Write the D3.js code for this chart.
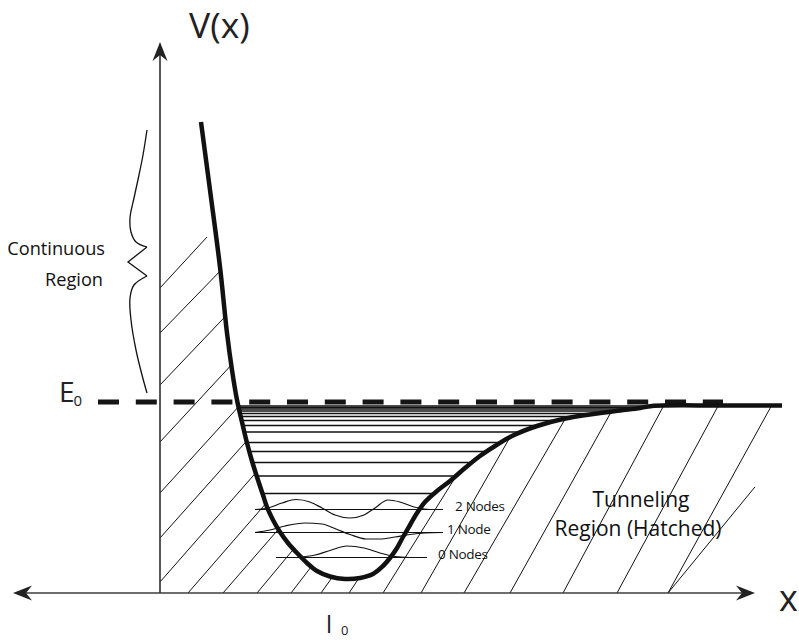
<!DOCTYPE html>
<html>
<head>
<meta charset="utf-8">
<script src="https://cdn.jsdelivr.net/npm/d3@7"></script>
<style>
  html, body { margin: 0; padding: 0; background: #fff; }
  svg { display: block; font-family: "Open Sans", "Noto Sans", sans-serif; }
</style>
</head>
<body>
<svg id="chart" width="799" height="642"></svg>
<script>
// ---------------- DATA (arbitrary units: x along the bond, V(x) energy) ----------------
// Potential energy curve V(x)
const curveX = [4.1, 5.0, 6.0, 6.7, 7.2, 7.7, 8.2, 8.7, 9.2, 9.7, 10.3, 10.7, 11.3, 12.0, 12.8, 13.7, 14.7, 15.7, 17.0, 18.5, 20.0, 21.3, 22.3, 23.0, 23.7, 24.3, 25.0, 25.7, 26.5, 27.7, 29.0, 30.5, 32.0, 33.5, 35.2, 37.7, 40.3, 43.7, 46.0, 48.0, 49.2, 56.0, 62.2];
const curveV = [47.1, 40.3, 32.6, 26.0, 22.3, 19.3, 17.1, 15.0, 13.2, 11.6, 9.8, 8.6, 7.3, 6.1, 5.0, 4.0, 3.0, 2.2, 1.65, 1.4, 1.5, 1.9, 2.7, 3.5, 4.5, 5.6, 6.8, 8.0, 9.1, 10.2, 11.2, 12.5, 13.7, 14.7, 15.7, 16.7, 17.4, 17.95, 18.25, 18.5, 18.7, 18.75, 18.75];

// Dissociation energy E0 and dashed line extent
const E0 = 19.1;
const e0Extent = [-6.2, 56.3];

// Quasi-continuum levels (drawn between the walls)
const levels = [18.7, 18.55, 18.4, 18.2, 17.95, 17.65, 17.25, 16.75, 16.1, 15.05, 14.15, 13.05, 11.7, 9.95];

// Lowest vibrational states with their wavefunctions
const stateNames = ["2 Nodes", "1 Node", "0 Nodes"];
const stateE = [8.35, 6.05, 3.55];
const stateLineStart = [9.5, 9.5, 11.6];
const stateLineEnd = [28.3, 28.3, 26.7];
const wave2X = [9.5, 10.8, 12.2, 13.6, 15.0, 16.2, 17.5, 19.0, 20.4, 21.5, 22.8, 24.0, 25.4, 27.0, 28.3];
const wave2V = [8.35, 8.5, 9.0, 9.35, 9.1, 8.5, 7.8, 7.5, 7.8, 8.5, 9.3, 9.1, 8.6, 8.35, 8.35];
const wave1X = [9.5, 11.0, 12.5, 14.5, 16.2, 17.6, 19.0, 20.6, 22.0, 23.5, 25.0, 26.5, 28.3];
const wave1V = [6.05, 6.3, 6.7, 7.0, 6.9, 6.4, 5.85, 5.4, 5.4, 5.6, 5.85, 6.0, 6.05];
const wave0X = [13.7, 15.5, 17.0, 18.7, 20.4, 22.0, 23.5, 25.0];
const wave0V = [3.55, 3.8, 4.25, 4.7, 4.5, 4.0, 3.65, 3.55];

// Hatch lines: feet on the V axis (x = 0) and on the x axis (V = 0), with slopes
const hatchFootV = [30.5, 26.0, 20.8, 15.1, 10.0, 5.5, 1.1];
const hatchFootVSlope = [1.085, 1.03, 1.05, 1.08, 1.1, 1.12, 1.14];
const hatchFootX = [2.8, 6.3, 9.7, 13.1, 16.1, 18.9, 22.3, 26.1, 30.4, 35.0, 40.3, 45.7, 50.8];
const hatchFootXSlope = [1.15, 1.15, 1.2, 1.3, 1.4, 1.5, 1.6, 1.75, 1.72, 1.79, 1.86, 1.85, 1.81];
const hatchShortFootX = [50.8];
const hatchShortSlope = [1.22];
const hatchShortTop = [10.6];
const hatchTop = 35.6;

// Brace for the continuous region
const braceTopX = [-1.3, -1.7, -2.1, -2.6, -3.0, -2.9, -2.4, -1.3];
const braceTopV = [46.3, 43.8, 41.8, 39.5, 37.5, 36.1, 35.1, 34.6];
const braceZigX = [-1.3, -3.2, -1.3];
const braceZigV = [34.6, 33.1, 31.7];
const braceBotX = [-1.3, -2.6, -3.0, -2.9, -2.4, -1.8, -1.3];
const braceBotV = [31.7, 30.8, 29.5, 27.3, 24.3, 21.8, 20.0];

// Axis extents
const xAxisExtent = [-14.7, 59.5];
const yAxisTop = 55.1;

// ---------------- SCALES ----------------
const svg = d3.select("#chart");
const xs = d3.scaleLinear().domain([0, 60]).range([160, 760]);
const ys = d3.scaleLinear().domain([0, 55]).range([593, 43]);

const curvePts = curveX.map((x, i) => [x, curveV[i]]);
const lineGen = d3.line().x(d => xs(d[0])).y(d => ys(d[1]));
const smoothGen = d3.line().x(d => xs(d[0])).y(d => ys(d[1])).curve(d3.curveCatmullRom.alpha(0.5));

// find crossing of curve with energy e on the left/right branch
const minIdx = d3.minIndex(curveV);
function crossing(e, side) {
  if (side === "left") {
    for (let i = 0; i < minIdx; i++) {
      const a = curvePts[i], b = curvePts[i + 1];
      if ((a[1] - e) * (b[1] - e) <= 0) return a[0] + (e - a[1]) / (b[1] - a[1]) * (b[0] - a[0]);
    }
  } else {
    for (let i = minIdx; i < curvePts.length - 1; i++) {
      const a = curvePts[i], b = curvePts[i + 1];
      if ((a[1] - e) * (b[1] - e) <= 0 && b[1] !== a[1]) return a[0] + (e - a[1]) / (b[1] - a[1]) * (b[0] - a[0]);
    }
  }
  return null;
}

// ---------------- CLIP PATHS FOR HATCH ----------------
const defs = svg.append("defs");
const curveD = smoothGen(curvePts);
const underD = "M" + xs(0) + "," + ys(curveV[0]) + "L" + curveD.substring(1) +
  "L" + xs(curveX[curveX.length - 1]) + "," + ys(0) + "L" + xs(0) + "," + ys(0) + "Z";
defs.append("clipPath").attr("id", "clipUnder").append("path").attr("d", underD);
defs.append("clipPath").attr("id", "clipTop").append("rect")
  .attr("x", xs(0)).attr("y", ys(hatchTop))
  .attr("width", xs(curveX[curveX.length - 1]) - xs(0))
  .attr("height", ys(0) - ys(hatchTop));

const hatchOuter = svg.append("g").attr("clip-path", "url(#clipTop)");
const hatch = hatchOuter.append("g").attr("clip-path", "url(#clipUnder)");
const hatchSegs = [];
hatchFootV.forEach((v, i) => {
  const s = hatchFootVSlope[i];
  hatchSegs.push([[0, v], [(60 - v) / s, 60]]);
});
hatchFootX.forEach((x, i) => {
  const s = hatchFootXSlope[i];
  hatchSegs.push([[x, 0], [x + 60 / s, 60]]);
});
hatchShortFootX.forEach((x, i) => {
  const s = hatchShortSlope[i];
  hatchSegs.push([[x, 0], [x + hatchShortTop[i] / s, hatchShortTop[i]]]);
});
hatch.selectAll("line.h").data(hatchSegs).join("line")
  .attr("class", "h")
  .attr("x1", d => xs(d[0][0])).attr("y1", d => ys(d[0][1]))
  .attr("x2", d => xs(d[1][0])).attr("y2", d => ys(d[1][1]))
  .attr("stroke", "#111").attr("stroke-width", 1);

// ---------------- AXES ----------------
const axisCol = "#3c3c3c";
svg.append("line")
  .attr("x1", xs(0)).attr("y1", ys(0)).attr("x2", xs(0)).attr("y2", ys(yAxisTop) + 6)
  .attr("stroke", axisCol).attr("stroke-width", 1.7);
svg.append("line")
  .attr("x1", xs(xAxisExtent[0]) + 6).attr("y1", ys(0)).attr("x2", xs(xAxisExtent[1]) - 6).attr("y2", ys(0))
  .attr("stroke", axisCol).attr("stroke-width", 1.7);

function arrowHead(tx, ty, dir) {
  const L = 19, W = 7.5, N = 13;
  const px = -dir[1], py = dir[0];
  const bx = tx - dir[0] * L, by = ty - dir[1] * L;
  const nx = tx - dir[0] * N, ny = ty - dir[1] * N;
  return `M${tx},${ty}L${bx + px * W},${by + py * W}L${nx},${ny}L${bx - px * W},${by - py * W}Z`;
}
svg.append("path").attr("d", arrowHead(xs(0), ys(yAxisTop), [0, -1])).attr("fill", "#222");
svg.append("path").attr("d", arrowHead(xs(xAxisExtent[0]), ys(0), [-1, 0])).attr("fill", "#222");
svg.append("path").attr("d", arrowHead(xs(xAxisExtent[1]), ys(0), [1, 0])).attr("fill", "#222");

// ---------------- ENERGY LEVELS ----------------
const levelSegs = levels.map(e => [crossing(e, "left"), crossing(e, "right"), e]).filter(d => d[0] !== null && d[1] !== null);
svg.selectAll("line.lvl").data(levelSegs).join("line")
  .attr("class", "lvl")
  .attr("x1", d => xs(d[0])).attr("x2", d => xs(d[1]))
  .attr("y1", d => ys(d[2])).attr("y2", d => ys(d[2]))
  .attr("stroke", "#111").attr("stroke-width", 1.3);

// lowest states: baselines
svg.selectAll("line.st").data(stateE).join("line")
  .attr("class", "st")
  .attr("x1", (d, i) => xs(stateLineStart[i])).attr("x2", (d, i) => xs(stateLineEnd[i]))
  .attr("y1", d => ys(d)).attr("y2", d => ys(d))
  .attr("stroke", "#111").attr("stroke-width", 1.2);

// wavefunctions
const waves = [
  wave2X.map((x, i) => [x, wave2V[i]]),
  wave1X.map((x, i) => [x, wave1V[i]]),
  wave0X.map((x, i) => [x, wave0V[i]])
];
const waveGen = d3.line().x(d => xs(d[0])).y(d => ys(d[1])).curve(d3.curveMonotoneX);
svg.selectAll("path.wave").data(waves).join("path")
  .attr("class", "wave")
  .attr("d", waveGen)
  .attr("fill", "none").attr("stroke", "#111").attr("stroke-width", 1.2);

// state labels
const labelOffsets = [1.2, 0.4, 1.1];
svg.selectAll("text.st").data(stateNames).join("text")
  .attr("class", "st")
  .attr("x", (d, i) => xs(stateLineEnd[i] + labelOffsets[i]))
  .attr("y", (d, i) => ys(stateE[i]) + 1.5)
  .attr("font-size", 13.5)
  .attr("letter-spacing", -0.3)
  .attr("fill", "#111")
  .text(d => d);

// ---------------- E0 DASHED LINE ----------------
svg.append("line")
  .attr("x1", xs(e0Extent[0])).attr("x2", xs(e0Extent[1]))
  .attr("y1", ys(E0)).attr("y2", ys(E0))
  .attr("stroke", "#151515").attr("stroke-width", 5)
  .attr("stroke-dasharray", "21,16.8");

// ---------------- POTENTIAL CURVE ----------------
svg.append("path")
  .attr("d", curveD)
  .attr("fill", "none").attr("stroke", "#111").attr("stroke-width", 4.5)
  .attr("stroke-linejoin", "round");

// ---------------- BRACE ----------------
const braceTop = braceTopX.map((x, i) => [x, braceTopV[i]]);
const braceZig = braceZigX.map((x, i) => [x, braceZigV[i]]);
const braceBot = braceBotX.map((x, i) => [x, braceBotV[i]]);
const braceG = svg.append("g").attr("fill", "none").attr("stroke", "#111").attr("stroke-width", 1.3);
braceG.append("path").attr("d", smoothGen(braceTop));
braceG.append("path").attr("d", lineGen(braceZig));
braceG.append("path").attr("d", smoothGen(braceBot));

// ---------------- TEXT ----------------
svg.append("text").attr("x", 189).attr("y", 38).attr("font-size", 35.5).attr("fill", "#222").text("V(x)");
svg.append("text").attr("x", 779).attr("y", 611).attr("font-size", 36).attr("fill", "#222").text("x");

const e0t = svg.append("text").attr("x", 59).attr("y", ys(E0)).attr("fill", "#222");
e0t.append("tspan").attr("font-size", 28).text("E");
e0t.append("tspan").attr("font-size", 15).attr("dy", 4).attr("dx", -1).text("0");

const l0 = svg.append("text").attr("x", 326).attr("y", 633).attr("fill", "#222");
l0.append("tspan").attr("font-size", 24).text("l");
l0.append("tspan").attr("font-size", 13).attr("dx", 9).attr("dy", 2).text("0");

svg.append("text").attr("x", 105).attr("y", 255).attr("text-anchor", "end").attr("font-size", 18.2).attr("fill", "#111").text("Continuous");
svg.append("text").attr("x", 103).attr("y", 286).attr("text-anchor", "end").attr("font-size", 18.2).attr("fill", "#111").text("Region");

svg.append("text").attr("x", 641).attr("y", 507).attr("text-anchor", "middle").attr("font-size", 21).attr("fill", "#111").text("Tunneling");
svg.append("text").attr("x", 638).attr("y", 536).attr("text-anchor", "middle").attr("font-size", 21).attr("fill", "#111").text("Region (Hatched)");
</script>
</body>
</html>
